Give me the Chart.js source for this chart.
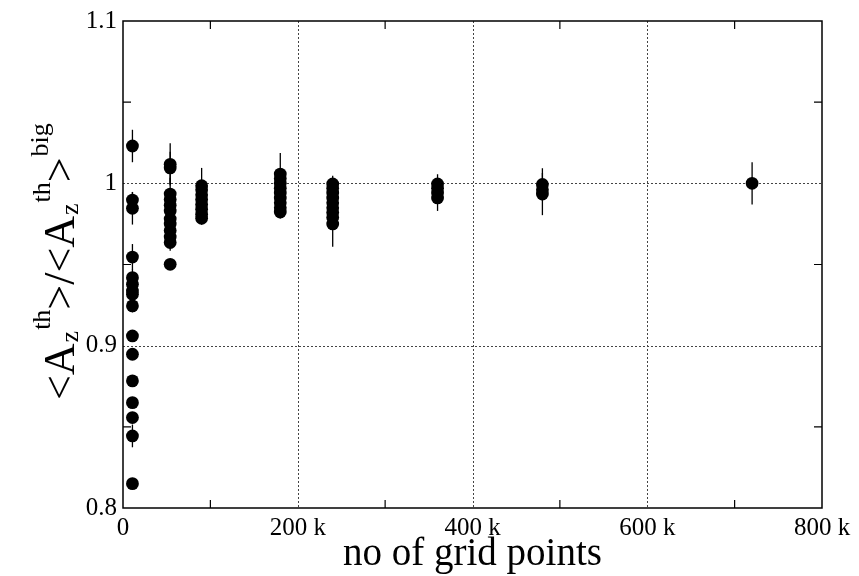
<!DOCTYPE html>
<html><head><meta charset="utf-8">
<script src="https://cdn.jsdelivr.net/npm/chart.js@4/dist/chart.umd.min.js"></script>
<style>html,body{margin:0;padding:0;background:#fff;}#wrap{width:859px;height:576px;position:relative;}</style>
</head><body><div id="wrap"><canvas id="c"></canvas></div>
<script>
// ---- data ----
const gridSizes = [10800, 54000, 90000, 180000, 240000, 360000, 480000, 720000];
const ratio10k  = [1.023, 0.9897, 0.9846, 0.9546, 0.9419, 0.9378, 0.9337, 0.9317, 0.9245, 0.906, 0.8947, 0.8783, 0.8649, 0.8557, 0.8444, 0.815];
const err10k    = [0.010, 0.005, 0.010, 0.008, 0.005, 0.004, 0.004, 0.004, 0.004, 0.003, 0.003, 0.003, 0.003, 0.003, 0.007, 0.003];
const ratio54k  = [1.0117, 1.0095, 0.9934, 0.990, 0.9865, 0.983, 0.978, 0.975, 0.971, 0.967, 0.9635, 0.9501];
const err54k    = [0.013, 0.010, 0.010, 0.005, 0.005, 0.005, 0.005, 0.005, 0.005, 0.005, 0.005, 0.003];
const ratio90k  = [0.9985, 0.996, 0.993, 0.990, 0.987, 0.984, 0.981, 0.9785];
const err90k    = [0.011, 0.005, 0.005, 0.005, 0.005, 0.005, 0.005, 0.004];
const ratio180k = [1.0057, 1.003, 1.000, 0.997, 0.994, 0.991, 0.988, 0.985, 0.9823];
const err180k   = [0.013, 0.005, 0.005, 0.005, 0.005, 0.005, 0.005, 0.005, 0.004];
const ratio240k = [0.9996, 0.997, 0.994, 0.991, 0.988, 0.985, 0.982, 0.979, 0.975];
const err240k   = [0.005, 0.005, 0.005, 0.005, 0.005, 0.005, 0.005, 0.005, 0.014];
const ratio360k = [0.9996, 0.997, 0.994, 0.991];
const err360k   = [0.006, 0.004, 0.004, 0.008];
const ratio480k = [0.9993, 0.996, 0.9934];
const err480k   = [0.010, 0.005, 0.013];
const ratio720k = [1.000];
const err720k   = [0.013];
const xTickLabels = ['0', '200 k', '400 k', '600 k', '800 k'];
const yTickLabels = ['0.8', '0.9', '1', '1.1'];
const xMinorTicks = [100000, 300000, 500000, 700000];
const yMinorTicks = [0.85, 0.95, 1.05];
const xGridTicks = [200000, 400000, 600000];
const yGridTicks = [0.9, 1.0];

const ratioGroups = [ratio10k, ratio54k, ratio90k, ratio180k, ratio240k, ratio360k, ratio480k, ratio720k];
const errGroups = [err10k, err54k, err90k, err180k, err240k, err360k, err480k, err720k];
const points = [];
ratioGroups.forEach((arr, g) => arr.forEach((v, i) => points.push({x: gridSizes[g], y: v, e: errGroups[g][i]})));

const SERIF = '"Liberation Serif", "Times New Roman", serif';

const decor = {
  id: 'decor',
  beforeDatasetsDraw(chart) {
    const {ctx, chartArea: a, scales: {x, y}} = chart;
    ctx.save();
    // dotted grid
    ctx.strokeStyle = '#444'; ctx.lineWidth = 1; ctx.setLineDash([2, 2]);
    xGridTicks.forEach(v => { const px = Math.round(x.getPixelForValue(v)) + 0.5; ctx.beginPath(); ctx.moveTo(px, a.top); ctx.lineTo(px, a.bottom); ctx.stroke(); });
    yGridTicks.forEach(v => { const py = Math.round(y.getPixelForValue(v)) + 0.5; ctx.beginPath(); ctx.moveTo(a.left, py); ctx.lineTo(a.right, py); ctx.stroke(); });
    ctx.setLineDash([]);
    // frame
    ctx.strokeStyle = '#000'; ctx.lineWidth = 1.5;
    ctx.strokeRect(a.left, a.top, a.right - a.left, a.bottom - a.top);
    // minor ticks (inward)
    ctx.lineWidth = 1.2;
    const L = 8;
    xMinorTicks.forEach(v => { const px = x.getPixelForValue(v); ctx.beginPath(); ctx.moveTo(px, a.bottom); ctx.lineTo(px, a.bottom - L); ctx.moveTo(px, a.top); ctx.lineTo(px, a.top + L); ctx.stroke(); });
    yMinorTicks.forEach(v => { const py = y.getPixelForValue(v); ctx.beginPath(); ctx.moveTo(a.left, py); ctx.lineTo(a.left + L, py); ctx.moveTo(a.right, py); ctx.lineTo(a.right - L, py); ctx.stroke(); });
    // error bars
    ctx.lineWidth = 1.3; ctx.strokeStyle = '#000';
    points.forEach(p => {
      const px = x.getPixelForValue(p.x);
      ctx.beginPath(); ctx.moveTo(px, y.getPixelForValue(p.y + p.e)); ctx.lineTo(px, y.getPixelForValue(p.y - p.e)); ctx.stroke();
    });
    ctx.restore();
  },
  afterDraw(chart) {
    const {ctx, chartArea: a} = chart;
    ctx.save();
    ctx.fillStyle = '#000';
    // x title
    ctx.font = '39px ' + SERIF; ctx.textAlign = 'center'; ctx.textBaseline = 'alphabetic';
    ctx.fillText('no of grid points', (a.left + a.right) / 2, 565);
    // y title
    ctx.translate(74, 400); ctx.rotate(-Math.PI / 2);
    ctx.textAlign = 'left';
    const big = '44px ' + SERIF, small = '26px ' + SERIF;
    let cx = 0;
    const seg = (t, f, dy, gap) => { ctx.font = f; cx += (gap || 0); ctx.fillText(t, cx, dy); cx += ctx.measureText(t).width; };
    seg('<A', big, 0);
    seg('z', small, 4, 1);
    seg('th', small, -24, 1);
    seg('>/<A', big, 0);
    seg('z', small, 4, 1);
    seg('th', small, -24, 1);
    seg('>', big, 0);
    seg('big', small, -26, 1);
    ctx.restore();
  }
};

new Chart(document.getElementById('c'), {
  type: 'scatter',
  data: { datasets: [{ data: points, backgroundColor: '#000', borderWidth: 0, pointRadius: 6.4, pointHoverRadius: 6.4 }] },
  options: {
    responsive: true, maintainAspectRatio: false, animation: false, devicePixelRatio: 1,
    layout: { padding: { top: 20, right: 37, left: 0, bottom: 0 } },
    plugins: { legend: { display: false }, tooltip: { enabled: false } },
    scales: {
      x: {
        type: 'linear', min: 0, max: 800000,
        afterFit: s => { s.height = 68; },
        afterBuildTicks: s => { s.ticks = xTickLabels.map((_, i) => ({ value: i * 200000 })); },
        ticks: { callback: (v, i) => xTickLabels[i], color: '#000', font: { family: SERIF, size: 25 }, padding: 5, maxRotation: 0, autoSkip: false },
        grid: { display: false, drawTicks: false }, border: { display: false }
      },
      y: {
        type: 'linear', min: 0.8, max: 1.1,
        afterFit: s => { s.width = 123; },
        afterBuildTicks: s => { s.ticks = yTickLabels.map((_, i) => ({ value: 0.8 + i * 0.1 })); },
        ticks: { callback: (v, i) => yTickLabels[i], color: '#000', font: { family: SERIF, size: 25 }, padding: 6, autoSkip: false },
        grid: { display: false, drawTicks: false }, border: { display: false }
      }
    }
  },
  plugins: [decor]
});
</script></body></html>
